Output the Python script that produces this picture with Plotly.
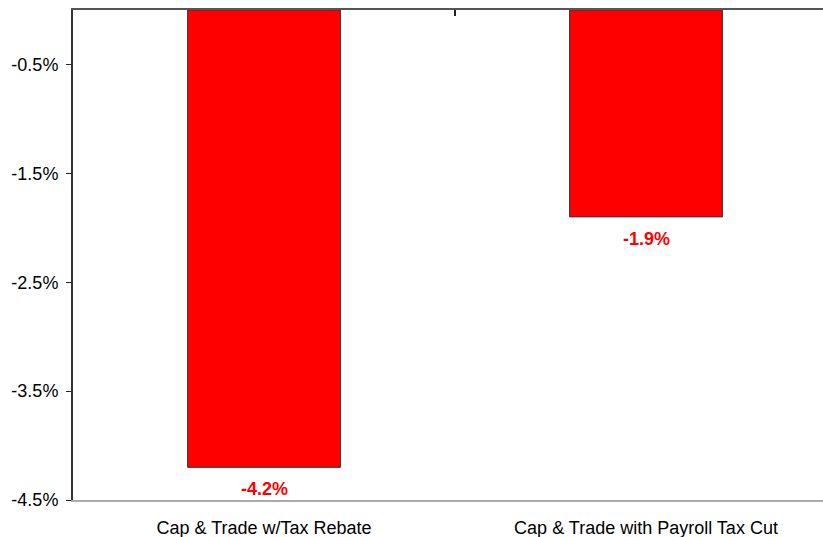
import plotly.graph_objects as go

categories = ["Cap & Trade w/Tax Rebate", "Cap & Trade with Payroll Tax Cut"]
values = [-4.2, -1.9]
value_labels = ["-4.2%", "-1.9%"]
y_tickvals = [-0.5, -1.5, -2.5, -3.5, -4.5]
y_ticktext = ["-0.5%", "-1.5%", "-2.5%", "-3.5%", "-4.5%"]

fig = go.Figure()
fig.add_trace(go.Bar(
    x=[0, 1], y=values, width=0.4,
    marker=dict(color="#ff0000", line=dict(color="#333333", width=1)),
    hoverinfo="skip",
))
fig.add_trace(go.Scatter(x=[0.5], y=[0], xaxis="x2", mode="markers",
                         marker=dict(opacity=0), hoverinfo="skip", showlegend=False))

for i, (v, t) in enumerate(zip(values, value_labels)):
    fig.add_annotation(x=i, y=v, text=t, showarrow=False, yanchor="top", yshift=-10,
                       font=dict(family="Liberation Sans, Arial", size=18, color="#ff0000", weight="bold"))

fig.update_layout(
    width=823, height=537,
    margin=dict(l=73, r=0, t=10, b=37),
    paper_bgcolor="white", plot_bgcolor="white",
    showlegend=False,
    font=dict(family="Liberation Sans, Arial", size=18, color="black"),
    xaxis=dict(
        range=[-0.5, -0.5 + 750 / 382], tickvals=[0, 1], ticktext=categories,
        showgrid=False, zeroline=False, showline=True, linecolor="#aaaaaa", linewidth=2,
        ticks="outside", ticklen=10, tickcolor="rgba(0,0,0,0)", tickfont=dict(size=18),
        fixedrange=True,
    ),
    xaxis2=dict(
        overlaying="x", side="top", matches="x", range=[-0.5, -0.5 + 750 / 382],
        tickvals=[0.5], showticklabels=False, ticks="inside", ticklen=6, tickcolor="#222222",
        tickwidth=2, showline=True, linecolor="#555555", linewidth=2, showgrid=False, zeroline=False,
    ),
    yaxis=dict(
        range=[-4.5, 0], tickvals=y_tickvals, ticktext=y_ticktext,
        showgrid=False, zeroline=False, showline=True, linecolor="#333333", linewidth=2,
        ticks="outside", ticklen=5, tickcolor="#222222", tickwidth=1,
        ticklabelstandoff=4, tickfont=dict(size=18),
    ),
)

fig.write_html("out.html")
